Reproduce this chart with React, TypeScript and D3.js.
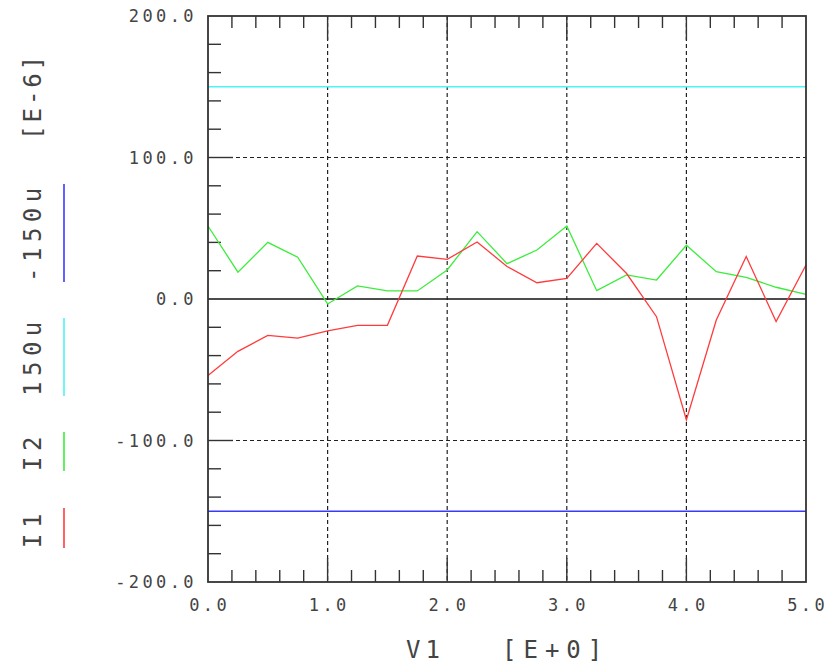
import React from "react";
import * as d3 from "d3";

// sweep values of V1
const v1 = [0, 0.25, 0.5, 0.75, 1, 1.25, 1.5, 1.75, 2, 2.25, 2.5, 2.75, 3, 3.25, 3.5, 3.75, 4, 4.25, 4.5, 4.75, 5];

// currents, in units of 1e-6
const i1 = [-54, -37, -25.7, -27.6, -22.6, -18.6, -18.6, 30.4, 28, 40.3, 23, 11.5, 14.6, 39.3, 18, -12.5, -85.5, -14.8, 30, -16, 24];
const i2 = [51.6, 19, 40, 29.5, -3.5, 9.2, 5.7, 5.7, 20.5, 47.6, 25, 34.6, 51.6, 5.9, 17, 13.4, 38, 19.3, 15.3, 8.3, 3.3];

const levels = [150, -150];

const xTicks = [0, 1, 2, 3, 4, 5];
const yTicks = [-200, -100, 0, 100, 200];

const legend = [
  { label: "I1", color: "#ff3b3b", y0: 508, y1: 548 },
  { label: "I2", color: "#3cec3c", y0: 432, y1: 471 },
  { label: "150u", color: "#4df4f4", y0: 318, y1: 396 },
  { label: "-150u", color: "#3a3aff", y0: 184, y1: 282 },
];

const W = 828;
const H = 663;
const left = 208;
const right = 806;
const top = 16;
const bottom = 582;
const font = "'DejaVu Sans Mono', monospace";

export default function App() {
  const x = d3.scaleLinear().domain([0, 5]).range([left, right]);
  const y = d3.scaleLinear().domain([-200, 200]).range([bottom, top]);

  const line = d3
    .line<number>()
    .x((d, i) => x(v1[i]))
    .y((d) => y(d));

  const xMinor = d3.range(0, 5.0001, 0.2).filter((t) => Math.abs(t - Math.round(t)) > 1e-6);
  const yMinor = d3.range(-200, 200.0001, 20).filter((t) => t % 100 !== 0);

  const axisColor = "#333";
  const textColor = "#444";

  return (
    <svg width={W} height={H} style={{ position: "absolute", left: 0, top: 0, background: "#fff" }}>
      {/* grid */}
      {xTicks.slice(1, -1).map((t) => (
        <line key={"gx" + t} x1={x(t)} x2={x(t)} y1={top} y2={bottom} stroke="#222" strokeWidth={1.2} strokeDasharray="4,3" />
      ))}
      {[-100, 100].map((t) => (
        <line key={"gy" + t} x1={left} x2={right} y1={y(t)} y2={y(t)} stroke="#222" strokeWidth={1.2} strokeDasharray="4,3" />
      ))}
      <line x1={left} x2={right} y1={y(0)} y2={y(0)} stroke="#111" strokeWidth={1.6} />

      {/* minor ticks */}
      {xMinor.map((t) => (
        <g key={"xm" + t}>
          <line x1={x(t)} x2={x(t)} y1={bottom} y2={bottom - 12} stroke={axisColor} strokeWidth={1.4} />
          <line x1={x(t)} x2={x(t)} y1={top} y2={top + 12} stroke={axisColor} strokeWidth={1.4} />
        </g>
      ))}
      {yMinor.map((t) => (
        <line key={"ym" + t} x1={left} x2={left + 13} y1={y(t)} y2={y(t)} stroke={axisColor} strokeWidth={1.4} />
      ))}
      {/* major ticks */}
      {xTicks.slice(1, -1).map((t) => (
        <g key={"xM" + t}>
          <line x1={x(t)} x2={x(t)} y1={bottom} y2={bottom - 24} stroke={axisColor} strokeWidth={1.4} />
          <line x1={x(t)} x2={x(t)} y1={top} y2={top + 24} stroke={axisColor} strokeWidth={1.4} />
        </g>
      ))}
      {[-100, 100].map((t) => (
        <line key={"yM" + t} x1={left} x2={left + 25} y1={y(t)} y2={y(t)} stroke={axisColor} strokeWidth={1.4} />
      ))}

      {/* level lines */}
      <line x1={left} x2={right} y1={y(levels[0])} y2={y(levels[0])} stroke="#4df4f4" strokeWidth={1.6} />
      <line x1={left} x2={right} y1={y(levels[1])} y2={y(levels[1])} stroke="#3a3aff" strokeWidth={1.6} />

      {/* traces */}
      <path d={line(i2) || ""} fill="none" stroke="#3cec3c" strokeWidth={1.3} />
      <path d={line(i1) || ""} fill="none" stroke="#ff3b3b" strokeWidth={1.3} />

      {/* frame */}
      <rect x={left} y={top} width={right - left} height={bottom - top} fill="none" stroke={axisColor} strokeWidth={1.8} />

      {/* tick labels */}
      {xTicks.map((t) => (
        <text key={"xl" + t} x={x(t) + 1.7} y={611} textAnchor="middle" fontFamily={font} fontSize={17} letterSpacing={3.4} fill={textColor}>
          {t.toFixed(1)}
        </text>
      ))}
      {yTicks.map((t) => (
        <text key={"yl" + t} x={197} y={y(t) + 6} textAnchor="end" fontFamily={font} fontSize={17} letterSpacing={3.4} fill={textColor}>
          {t.toFixed(1)}
        </text>
      ))}

      {/* x title */}
      <text x={406} y={658} fontFamily={font} fontSize={24} letterSpacing={5} fill={textColor}>
        V1
      </text>
      <text x={502} y={658} fontFamily={font} fontSize={24} letterSpacing={7} fill={textColor}>
        [E+0]
      </text>

      {/* legend */}
      {legend.map((l) => (
        <g key={l.label}>
          <text
            transform={`translate(41, ${l.y1}) rotate(-90)`}
            fontFamily={font}
            fontSize={24}
            letterSpacing={5.5}
            fill={textColor}
          >
            {l.label}
          </text>
          <line x1={64} x2={64} y1={l.y0} y2={l.y1} stroke={l.color} strokeWidth={1.6} />
        </g>
      ))}
      <text transform="translate(41, 140) rotate(-90)" fontFamily={font} fontSize={24} letterSpacing={3} fill={textColor}>
        [E-6]
      </text>
    </svg>
  );
}
